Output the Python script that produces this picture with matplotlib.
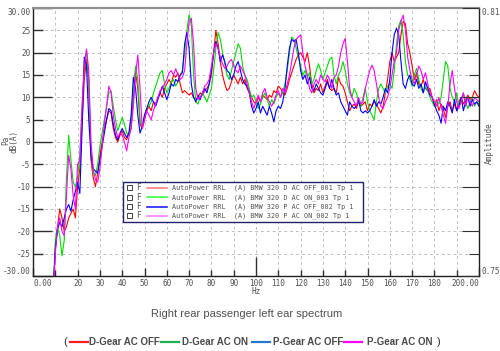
import matplotlib
matplotlib.use("Agg")
from matplotlib import pyplot as plt
from matplotlib.lines import Line2D
from matplotlib.patches import Rectangle
import numpy as np

# frequency grid (Hz), 1 Hz steps
freq = np.arange(9, 201)

# D-Gear AC OFF
d_off = [-34, -24, -19, -15, -17, -20, -19, -17, -16, -15, -17, -10, -6, 4, 14, 18.5, 14, -4, -8, -10,
         -7, -3, 0, 3, 5, 7, 6.5, 3, 1, 0, 1.5, 2.5, 1, 0.5, 2, 3, 10, 15.5, 12, 4,
         3, 5, 7, 8, 7, 9, 8.5, 10, 11, 10, 12, 13, 14, 13, 15, 14.5, 15.5, 13, 11, 11.5,
         11, 10.5, 11, 10, 9.5, 10, 11, 10.5, 11.5, 12, 13, 15, 20, 25, 22, 18, 15, 13, 11.5, 12,
         13.5, 15, 14, 13, 14.5, 13, 14, 12, 11, 10, 9, 8.5, 10, 9, 10.5, 10, 9.5, 10.5, 10, 11.5,
         11, 12.5, 12, 11, 10.5, 12, 14, 15.5, 17, 18.5, 19.5, 20, 19, 18, 20, 17, 13, 11, 12, 11.5,
         13, 11, 12.5, 14, 12, 11.5, 12, 11, 14.5, 13, 12.5, 11, 9, 7, 8, 8.5, 7.5, 9, 8, 8.5,
         9, 7, 8.5, 8, 9, 8.5, 7.5, 6.5, 8, 11, 14, 18, 20, 18, 19, 20, 24, 27, 26.5, 22,
         20, 17, 14, 15.5, 13, 12.5, 14, 12, 11.5, 12, 10, 8, 9.5, 7, 8.5, 7.5, 5.5, 8, 9, 7,
         8.5, 7, 9, 10, 8.5, 9.5, 10.5, 9.5, 10, 11.5, 10.5, 10]

# D-Gear AC ON
d_on = [-34, -22, -19, -21, -25.5, -22, -8, 1.5, -4, -9, -10, -8, -3, 8, 18, 20.5, 12, -2, -7, -7.5,
        -5, -1, 2, 5, 8, 11, 11.5, 8, 5, 2.5, 4, 5.5, 4, 2, 1.5, 5, 12, 17, 14, 5,
        3, 6, 7.5, 8, 9, 11, 12.5, 14, 15.5, 16, 13, 11, 12, 13.5, 14, 12.5, 13.5, 15, 16, 20,
        25, 28.5, 26, 15, 9, 8.5, 10, 11, 10, 9, 10.5, 12, 16, 21, 24.5, 23, 20, 17.5, 15, 14,
        16, 18, 20, 22, 21, 17, 15, 14, 12, 10, 10.5, 9, 7.5, 8.5, 10, 11, 9.5, 8, 9.5, 8.5,
        10, 11, 10, 11, 13, 16, 20, 23.5, 23, 21, 19, 17, 15, 16, 14.5, 15.5, 13, 14, 16, 17.5,
        16, 14, 15.5, 17, 18.5, 19, 15, 13, 15, 16, 18, 16, 13, 11, 10, 12, 11, 9, 8, 10,
        12, 9, 7, 6, 5, 9, 12, 13, 12, 11, 12.5, 13, 12, 16, 22, 26, 27.3, 24, 18, 15,
        14, 12.5, 15, 16.5, 14, 12, 11, 12.5, 11.5, 10, 9, 8, 9, 8.5, 10, 14, 18, 17, 12, 10,
        9, 11, 8, 9.5, 11, 9, 7.5, 9, 10, 8, 9, 8.5]

# P-Gear AC OFF
p_off = [-34, -24, -19.5, -18, -19, -17, -15, -14, -15.5, -13, -11, -9, -11.5, 3, 19, 17, 5, -3, -6, -6.5,
         -7, -4, -1, 2, 5, 7.5, 7, 4, 1.5, 0.5, 2, 3, 2, 1, 2, 6, 14.5, 12, 6, 2,
         3.5, 6, 7.5, 9, 10, 9, 8, 9.5, 11, 12.5, 11, 9.5, 11, 13, 12.5, 14, 13.5, 15, 15.5, 22,
         24.5, 21, 13, 10, 9, 10.5, 9.5, 11, 12, 11, 13, 16, 20, 22.5, 21, 18, 19.5, 18, 16, 15.5,
         14, 15, 17, 18, 16, 14, 13, 12.5, 11, 8, 6.5, 7.5, 9, 6.5, 8, 7, 6, 8, 6.5, 4.5,
         7, 8, 7.5, 9, 12, 17, 21, 23, 22.5, 23, 20, 16, 14, 15, 13, 14.5, 12, 11.5, 13, 12,
         11, 10.5, 12, 13.5, 12, 14, 12, 10.5, 11, 9, 8, 7, 6, 9, 8, 7.5, 8, 9.5, 7, 6.5,
         7, 6.5, 7, 8, 9.5, 8, 9, 8.5, 10, 12, 11, 14, 20, 24, 25.5, 24, 18, 13, 12, 14,
         15, 13, 12.5, 14, 12, 13, 11, 13.5, 12, 10.5, 10, 8.5, 7, 6, 4.2, 8, 7, 9, 8, 6.5,
         9.5, 7, 8, 10, 7, 9, 10, 8, 9.5, 8.5, 9, 8]

# P-Gear AC ON
p_on = [-34, -25, -19, -17, -20, -21, -12, -3, -6, -12, -15, -5, -4, 8, 17, 20.8, 16, 0, -6, -8.5,
        -9, -6, -1, 4, 8, 12.5, 11, 6, 3, 1, 2, 1.5, 0, -2, 1, 3, 8, 15, 19.5, 12,
        3, 5, 7, 6, 5, 7, 8.5, 10, 11.5, 12, 13, 14, 15.5, 16, 15, 16.4, 15, 14, 14.5, 16,
        22, 27, 27.7, 22, 12, 9.5, 10, 11, 12.5, 13, 14, 17, 20, 22, 21, 19, 17.5, 16.5, 17, 18,
        18.5, 17, 16, 15.5, 17, 16, 15, 13, 11, 9, 7.5, 9, 10.5, 9, 11, 12, 10, 9, 8, 9,
        10.5, 11.5, 10, 12, 11, 13, 15, 18, 21, 23, 23.5, 24, 20, 17, 15, 12, 11, 13, 14, 13,
        15, 14, 13.5, 15, 14, 12, 14.5, 15, 17, 20, 22, 23.2, 18, 12, 10, 9, 8, 10, 8.5, 9,
        12, 14, 16, 17.2, 16, 13, 10, 8, 7.5, 9, 10, 12, 15, 18, 20, 25, 27, 28.4, 25, 19,
        16, 14, 13, 15, 17, 16, 14, 15.5, 13, 11, 10, 9, 8, 10, 8, 6, 4.2, 8, 13, 16,
        12, 9, 7.5, 9, 11, 8, 10, 9, 8, 10, 9.5, 9]

series = [d_off, d_on, p_off, p_on]
line_colors = ['#ff0000', '#00dd00', '#0000ff', '#ff00ff']
box_colors = ['#ff8080', '#40ff40', '#2020ff', '#ff80ff']
box_labels = ['AutoPower RRL  (A) BMW 320 D AC OFF_001 Tp 1',
              'AutoPower RRL  (A) BMW 320 D AC ON_003 Tp 1',
              'AutoPower RRL  (A) BMW 320 P AC OFF_002 Tp 1',
              'AutoPower RRL  (A) BMW 320 P AC ON_002 Tp 1']
legend_names = ['D-Gear AC OFF', 'D-Gear AC ON', 'P-Gear AC OFF', 'P-Gear AC ON']
legend_colors = ['#ff2020', '#20b050', '#2878c8', '#ff00ff']
title = 'Right rear passenger left ear spectrum'

fig = plt.figure(figsize=(5.0, 3.51), dpi=100)
ax = fig.add_axes([0.066, 0.2137, 0.892, 0.7635])

for vals, c in zip(series, line_colors):
    ax.plot(freq, vals, color=c, lw=0.8)

ax.set_xlim(0, 200)
ax.set_ylim(-30, 30)

# grid
ax.set_xticks(np.arange(0, 201, 10))
ax.set_yticks(np.arange(-30, 31, 5))
ax.grid(True, color='#c0c0c0', linestyle=(0, (3, 3)), lw=0.7)

tick_font = dict(family='DejaVu Sans Mono', size=5.5)
xl = []
for v in range(0, 201, 10):
    if v == 0:
        xl.append('0.00')
    elif v == 200:
        xl.append('200.00')
    elif v in (10, 190):
        xl.append('')
    else:
        xl.append(str(v))
ax.set_xticklabels(xl, color='#505050', fontdict=tick_font)
yl = []
for v in range(-30, 31, 5):
    if v == 30:
        yl.append('30.00')
    elif v == -30:
        yl.append('-30.00')
    else:
        yl.append(str(v))
ax.set_yticklabels(yl, color='#505050', fontdict=tick_font)
ax.tick_params(axis='both', direction='in', width=1, colors='#303030', pad=2)
ax.tick_params(axis='both', labelcolor='#505050')

# end labels sit inside the corners
xlabs = ax.get_xticklabels()
xlabs[0].set_ha('left')
xlabs[-1].set_ha('right')
ylabs = ax.get_yticklabels()
ylabs[0].set_va('bottom')
ylabs[-1].set_va('top')

for t, v in zip(ax.xaxis.get_major_ticks(), range(0, 201, 10)):
    if v == 100:
        t.tick1line.set_markersize(14)
    elif v % 50 == 0:
        t.tick1line.set_markersize(6)
    else:
        t.tick1line.set_markersize(4)
for t, v in zip(ax.yaxis.get_major_ticks(), range(-30, 31, 5)):
    t.tick1line.set_markersize(14 if v % 10 == 0 else 7)

for s in ['left', 'bottom', 'right']:
    ax.spines[s].set_color('#202020')
    ax.spines[s].set_linewidth(1)
ax.spines['top'].set_color('#909090')
ax.spines['top'].set_linewidth(1.6)

# right amplitude axis
ax2 = ax.twinx()
ax2.set_ylim(0.75, 0.81)
rt = np.round(np.arange(0.75, 0.8101, 0.005), 3)
ax2.set_yticks(rt)
ax2.set_yticklabels(['0.75' if v == 0.75 else ('0.81' if v == 0.81 else '') for v in rt],
                    fontdict=tick_font, color='#505050')
ax2.tick_params(axis='y', direction='in', colors='#303030', labelcolor='#505050', pad=2)
rlabs = ax2.get_yticklabels()
rlabs[0].set_va('bottom')
rlabs[-1].set_va('top')
for t, v in zip(ax2.yaxis.get_major_ticks(), rt):
    t.tick2line.set_markersize(12 if round(v * 1000) % 10 == 0 else 7)
for s in ax2.spines.values():
    s.set_visible(False)

# axis labels
fig.text(256 / 500, 1 - 291 / 351, 'Hz', ha='center', va='center', fontsize=5.5,
         family='DejaVu Sans Mono', color='#505050')
fig.text(6 / 500, 1 - 140 / 351, 'Pa', rotation=90, ha='center', va='center', fontsize=5.5,
         family='DejaVu Sans Mono', color='#505050')
fig.text(14 / 500, 1 - 141 / 351, 'dB(A)', rotation=90, ha='center', va='center', fontsize=5.5,
         family='DejaVu Sans Mono', color='#505050')
fig.text(489 / 500, 1 - 143 / 351, 'Amplitude', rotation=90, ha='center', va='center', fontsize=5.5,
         family='DejaVu Sans Mono', color='#505050')

# inner legend box (axes coordinates)
def px2ax(px, py):
    return (px - 33) / 446, (276 - py) / 268

x0, y0 = px2ax(123, 222)
x1, y1 = px2ax(363, 182)
ax.add_patch(Rectangle((x0, y0), x1 - x0, y1 - y0, transform=ax.transAxes, facecolor='white',
                       edgecolor='#202070', lw=1, zorder=5))
for i, (lab, c) in enumerate(zip(box_labels, box_colors)):
    py = 188 + i * 9.3
    bx, by = px2ax(127, py + 2.5)
    ax.add_patch(Rectangle((bx, by), 5 / 446, 5 / 268, transform=ax.transAxes, facecolor='white',
                           edgecolor='#404040', lw=0.7, zorder=6))
    fx, fy = px2ax(136, py)
    ax.text(fx, fy, 'F', transform=ax.transAxes, va='center', ha='left', fontsize=5.5,
            family='DejaVu Sans Mono', color='#505050', zorder=6)
    lx0, ly = px2ax(147, py)
    lx1, _ = px2ax(167, py)
    ax.add_line(Line2D([lx0, lx1], [ly, ly], transform=ax.transAxes, color=c, lw=1.2, zorder=6))
    tx, ty = px2ax(172, py)
    ax.text(tx, ty, lab, transform=ax.transAxes, va='center', ha='left', fontsize=4.85,
            family='DejaVu Sans Mono', color='#505050', zorder=6)

# title
fig.text(247 / 500, 1 - 314 / 351, title, ha='center', va='center', fontsize=8,
         family='Liberation Sans', color='#505050')

# bottom legend
ly = 1 - 342 / 351
fig.text(63 / 500, ly, '(', ha='left', va='center', fontsize=8, family='Liberation Sans',
         color='#303030')
starts = [70, 161, 252, 344]
text_x = [89, 182, 273, 367]
for sx, tx, name, c in zip(starts, text_x, legend_names, legend_colors):
    fig.add_artist(Line2D([sx / 500, (sx + 18) / 500], [ly, ly], transform=fig.transFigure,
                          color=c, lw=1.6))
    fig.text(tx / 500, ly, name, ha='left', va='center', fontsize=7, family='Liberation Sans',
             weight='bold', color='#4a4a4a')
fig.text(437 / 500, ly, ')', ha='left', va='center', fontsize=8, family='Liberation Sans',
         color='#303030')

fig.savefig('out.png', dpi=100)
